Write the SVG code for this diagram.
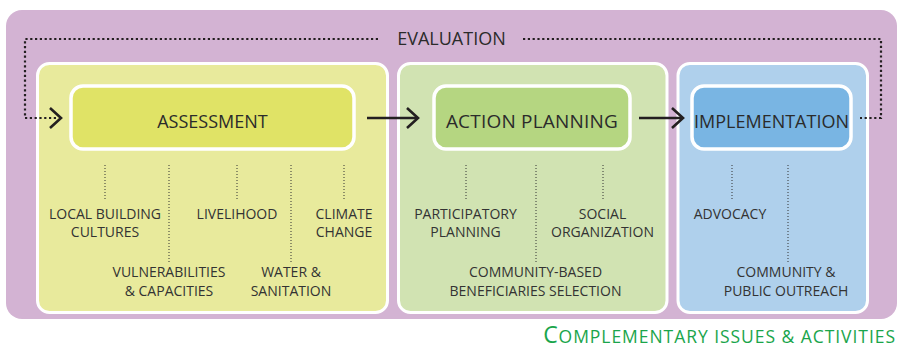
<svg xmlns="http://www.w3.org/2000/svg" width="900" height="350" viewBox="0 0 900 350">
<defs>
<style>
.lbl{font-family:"Open Sans","Liberation Sans",sans-serif;font-size:14px;fill:#333;text-anchor:middle}
.head{font-family:"Open Sans","Liberation Sans",sans-serif;font-size:18px;fill:#2b2b2b;text-anchor:middle}
.panel{stroke:#fff;stroke-width:3}
.box{stroke:#fff;stroke-width:3.5}
.eval{fill:none;stroke:#231f20;stroke-width:2.2;stroke-dasharray:2.2 2.6}
.tick{fill:none;stroke:#333;stroke-width:1;stroke-dasharray:1 2}
.arrow{fill:none;stroke:#231f20;stroke-width:2.6}
.foot{font-family:"Open Sans","Liberation Sans",sans-serif;font-size:17.5px;fill:#1aa54b;letter-spacing:0.95px}
</style>
</defs>
<rect x="0" y="0" width="900" height="350" fill="#fff"/>
<rect id="bg" x="6" y="10" width="891" height="309" rx="16" fill="#d3b3d3"/>

<g id="panel-assessment">
<rect class="panel" x="37.5" y="63.5" width="350" height="249" rx="12" fill="#e8ea9c"/>
</g>
<g id="panel-action">
<rect class="panel" x="398.5" y="63.5" width="268.5" height="249" rx="12" fill="#d1e3b2"/>
</g>
<g id="panel-implementation">
<rect class="panel" x="678" y="63.5" width="189.5" height="249" rx="12" fill="#afd0ec"/>
</g>

<g id="node-assessment">
<rect class="box" x="71" y="86" width="283" height="63" rx="12" fill="#e0e366"/>
<text class="head" x="212.5" y="128">ASSESSMENT</text>
</g>
<g id="node-action-planning">
<rect class="box" x="434" y="86" width="196" height="63" rx="12" fill="#b5d681"/>
<text class="head" x="532" y="128" style="font-size:19px;letter-spacing:0.2px">ACTION PLANNING</text>
</g>
<g id="node-implementation">
<rect class="box" x="692" y="86" width="159" height="63" rx="12" fill="#79b5e3"/>
<text class="head" x="771.5" y="128">IMPLEMENTATION</text>
</g>

<g id="evaluation">
<text class="head" x="451.5" y="45">EVALUATION</text>
</g>

<g id="connectors">
<polyline class="eval" points="378,39 25,39 25,118 57,118"/>
<polyline class="arrow" points="50,108 61,118 50,128"/>
<polyline class="eval" points="523,39 881,39 881,118 860,118"/>
<line class="arrow" x1="367" y1="118" x2="418" y2="118"/>
<polyline class="arrow" points="407,108 418,118 407,128"/>
<line class="arrow" x1="639" y1="118" x2="683" y2="118"/>
<polyline class="arrow" points="672,108 683,118 672,128"/>

<line class="tick" x1="105" y1="165" x2="105" y2="199"/>
<line class="tick" x1="169" y1="165" x2="169" y2="262"/>
<line class="tick" x1="237" y1="165" x2="237" y2="199"/>
<line class="tick" x1="291" y1="165" x2="291" y2="262"/>
<line class="tick" x1="344" y1="165" x2="344" y2="199"/>
<line class="tick" x1="466" y1="165" x2="466" y2="199"/>
<line class="tick" x1="536" y1="165" x2="536" y2="262"/>
<line class="tick" x1="603" y1="165" x2="603" y2="199"/>
<line class="tick" x1="732" y1="165" x2="732" y2="199"/>
<line class="tick" x1="788" y1="165" x2="788" y2="262"/>
</g>

<g id="label-local-building">
<text class="lbl" x="105" y="219">LOCAL BUILDING</text>
<text class="lbl" x="105" y="237">CULTURES</text>
</g>
<g id="label-livelihood">
<text class="lbl" x="237" y="219">LIVELIHOOD</text>
</g>
<g id="label-climate">
<text class="lbl" x="344" y="219">CLIMATE</text>
<text class="lbl" x="344" y="237">CHANGE</text>
</g>
<g id="label-vulnerabilities">
<text class="lbl" x="169" y="277">VULNERABILITIES</text>
<text class="lbl" x="169" y="296">&amp; CAPACITIES</text>
</g>
<g id="label-water">
<text class="lbl" x="291" y="277">WATER &amp;</text>
<text class="lbl" x="291" y="296">SANITATION</text>
</g>
<g id="label-participatory">
<text class="lbl" x="465.5" y="219">PARTICIPATORY</text>
<text class="lbl" x="465.5" y="237">PLANNING</text>
</g>
<g id="label-social">
<text class="lbl" x="602.5" y="219">SOCIAL</text>
<text class="lbl" x="602.5" y="237">ORGANIZATION</text>
</g>
<g id="label-community-based">
<text class="lbl" x="535.5" y="277">COMMUNITY-BASED</text>
<text class="lbl" x="535.5" y="296">BENEFICIARIES SELECTION</text>
</g>
<g id="label-advocacy">
<text class="lbl" x="730" y="219">ADVOCACY</text>
</g>
<g id="label-outreach">
<text class="lbl" x="786" y="277">COMMUNITY &amp;</text>
<text class="lbl" x="786" y="296">PUBLIC OUTREACH</text>
</g>

<text class="foot" x="896" y="343" text-anchor="end"><tspan font-size="23">C</tspan>OMPLEMENTARY ISSUES &amp; ACTIVITIES</text>
</svg>
